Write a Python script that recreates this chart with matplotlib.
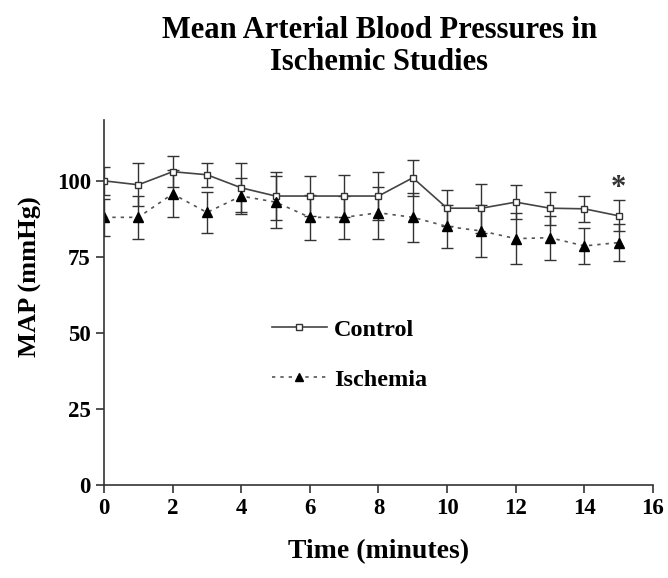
import matplotlib
matplotlib.use("Agg")
import matplotlib.pyplot as plt
from matplotlib.lines import Line2D

# ------ data ------ #
minutes = list(range(16))
control = [100, 98.7, 103, 102, 97.7, 95, 95, 95, 95, 101, 91, 91, 93, 91, 90.8, 88.5]
control_err = [4.6, 7, 5, 4, 8, 8, 6.6, 7, 8, 6, 6, 8, 5.7, 5.4, 4.2, 5.1]
ischemia = [88, 88, 95.7, 89.6, 95, 93, 88, 88, 89.5, 88, 85, 83.5, 81, 81.3, 78.6, 79.7]
ischemia_err = [6, 7, 7.7, 6.6, 6, 8.5, 7.4, 7, 8.5, 8, 7, 8.5, 8.3, 7.3, 5.9, 6.2]
x_ticks = [0, 2, 4, 6, 8, 10, 12, 14, 16]
y_ticks = [0, 25, 50, 75, 100]
# ------------------------------------ #

plt.rcParams['font.family'] = ['Liberation Serif', 'DejaVu Serif']
plt.rcParams['font.weight'] = 'bold'

fig = plt.figure(figsize=(6.68, 5.78), dpi=100)
ax = fig.add_axes([0.1557, 0.1609, 0.8218, 0.6315])

ax.errorbar(minutes, control, yerr=control_err, color='#444444', lw=1.2,
            marker='s', ms=5, mfc='white', mec='#333333', mew=1.0,
            ecolor='#333333', elinewidth=1.0, capsize=4, capthick=1.0)
ax.errorbar(minutes, ischemia, yerr=ischemia_err, color='#555555', lw=1.2,
            ls=(0, (2, 3)), marker='^', ms=7, mfc='black', mec='black',
            ecolor='#333333', elinewidth=1.0, capsize=4, capthick=1.0)
ax.text(minutes[-1], control[-1] + 9, '*', ha='center', va='center',
        fontsize=22, fontweight='bold', color='#333333')

ax.set_xlim(0, 16)
ax.set_ylim(0, 120)
ax.set_xticks(x_ticks)
ax.set_yticks(y_ticks)
ax.spines['top'].set_visible(False)
ax.spines['right'].set_visible(False)
for s in ('left', 'bottom'):
    ax.spines[s].set_color('#333333')
    ax.spines[s].set_linewidth(1.2)
ax.tick_params(direction='out', length=6, width=1.2, color='#333333',
               labelsize=16.5)

ax.set_xlabel('Time (minutes)', fontsize=20, fontweight='bold', labelpad=14)
ax.set_ylabel('MAP (mmHg)', fontsize=19, fontweight='bold')
ax.yaxis.set_label_coords(-0.113, 0.57)

handles = [
    Line2D([], [], color='#444444', lw=1.2, marker='s', ms=5, mfc='white',
           mec='#333333'),
    Line2D([], [], color='#555555', lw=1.2, ls=(0, (2, 3)), marker='^', ms=6,
           mfc='black', mec='black'),
]
ax.legend(handles, ['Control', 'Ischemia'], loc='upper left',
          bbox_to_anchor=(0.306, 0.456), frameon=False, borderpad=0,
          borderaxespad=0, fontsize=17.5, handlelength=2.25, handletextpad=0.3,
          labelspacing=1.15)

fig.suptitle('Mean Arterial Blood Pressures in\nIschemic Studies',
             x=0.568, y=0.973, fontsize=22, fontweight='bold', linespacing=1.15)

fig.savefig('out.png', dpi=100)
